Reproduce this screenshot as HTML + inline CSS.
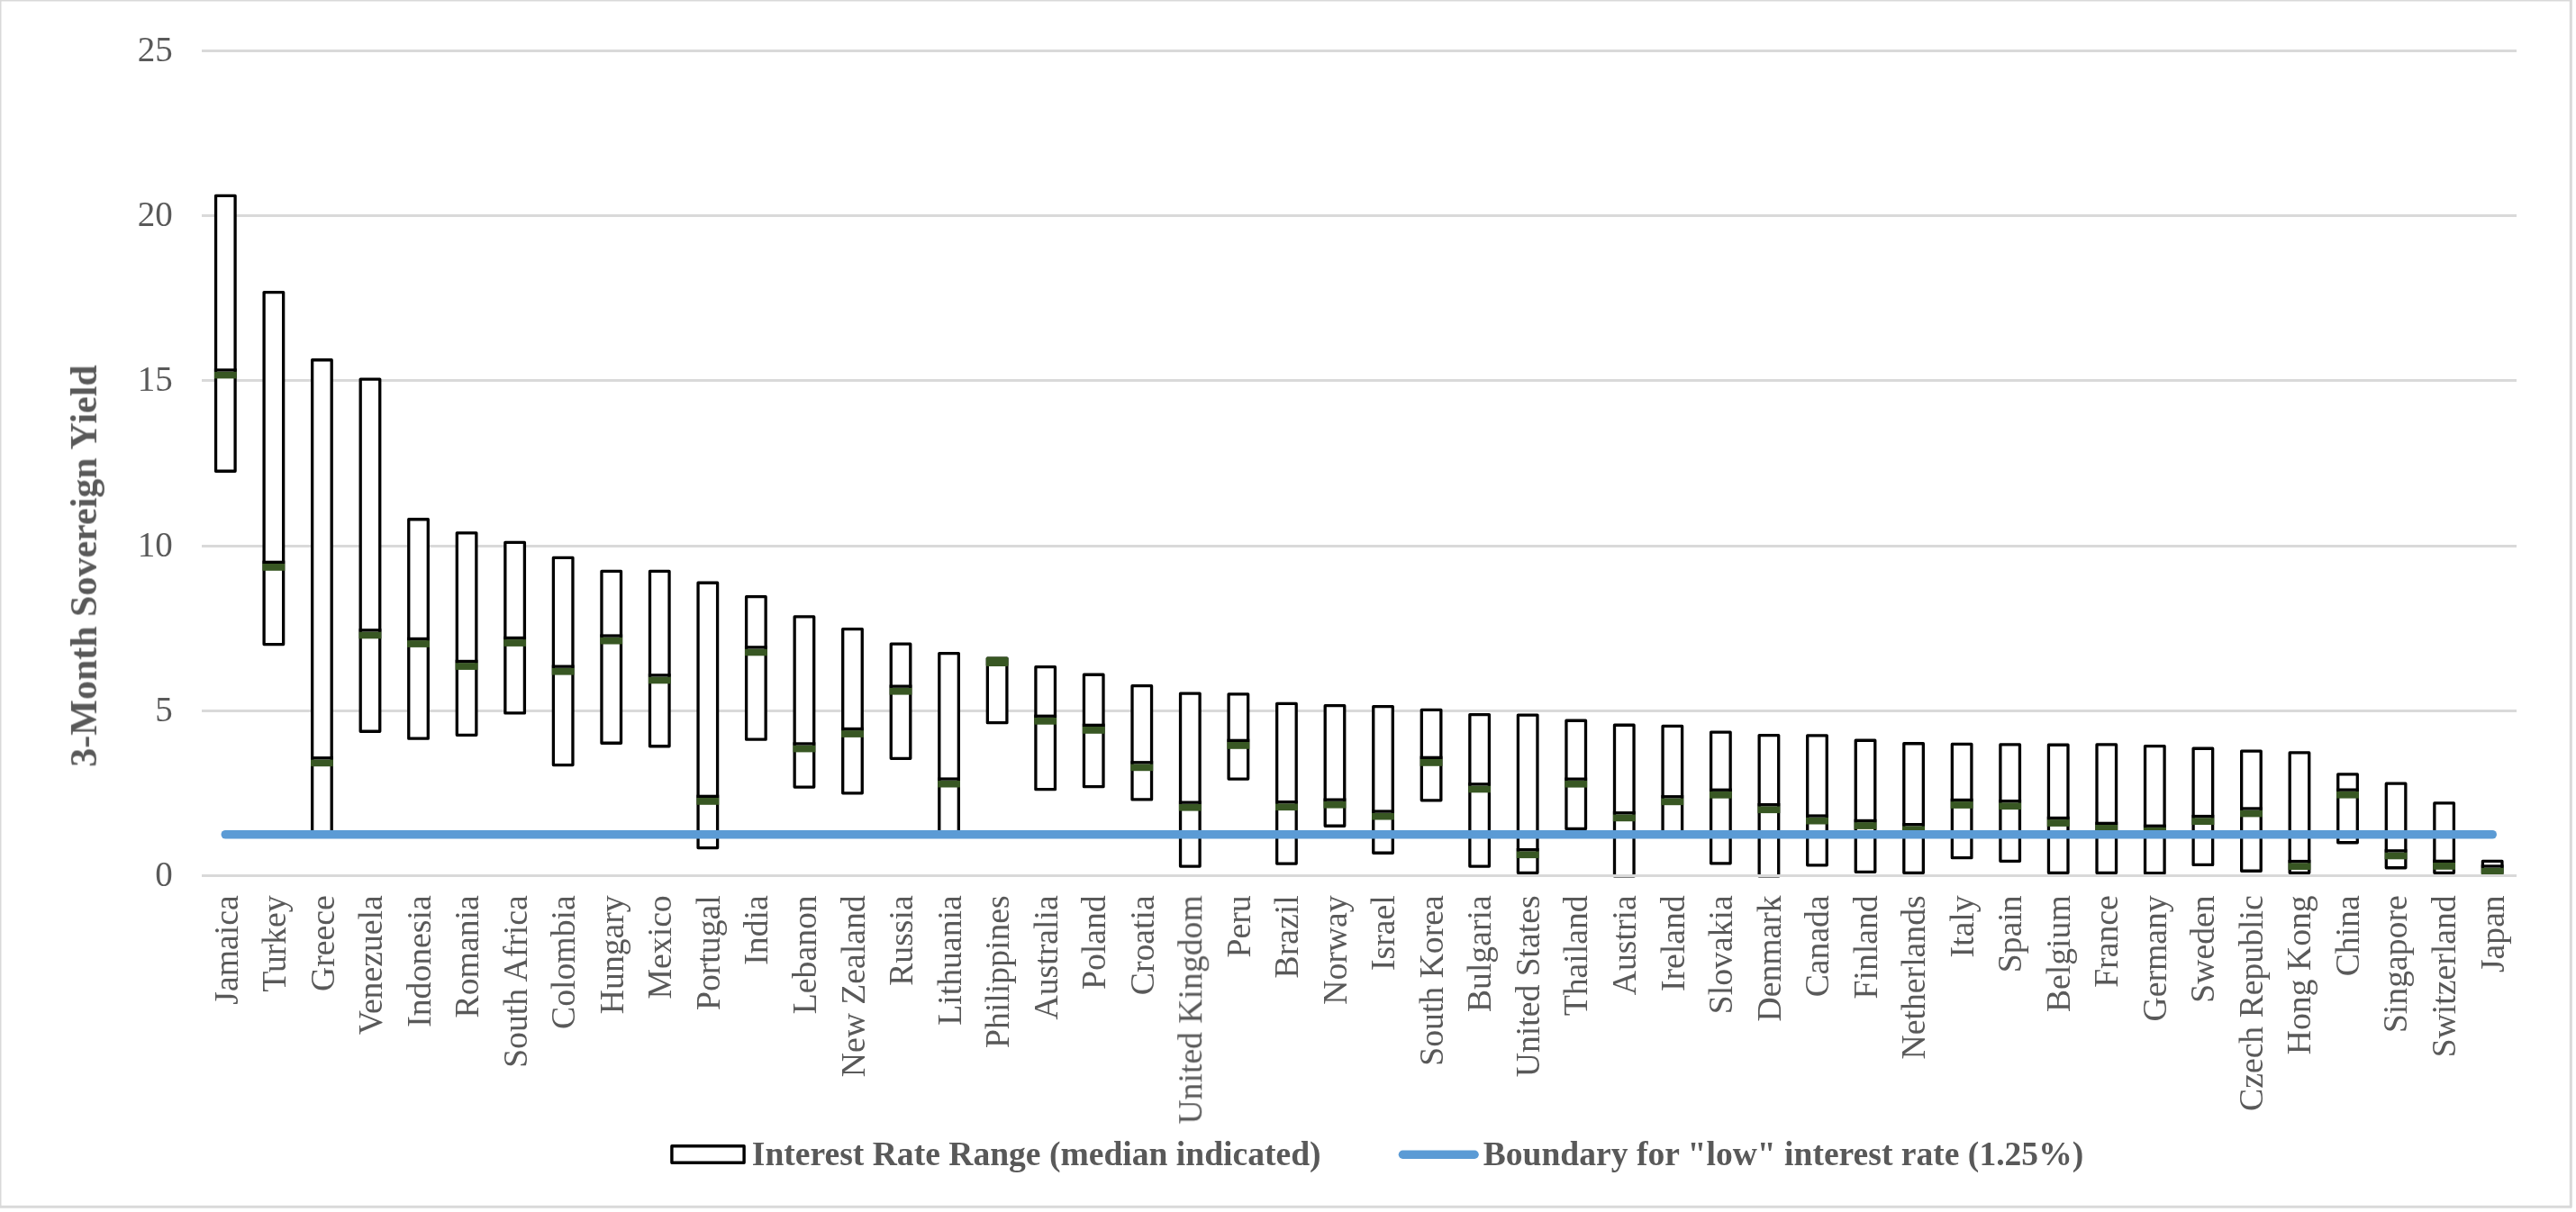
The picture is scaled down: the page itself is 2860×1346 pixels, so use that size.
<!DOCTYPE html>
<html><head><meta charset="utf-8"><title>3-Month Sovereign Yield</title>
<style>html,body{margin:0;padding:0;background:#fff;}svg{display:block;}.t{filter:grayscale(1);}svg text{font-family:"Liberation Serif","Times New Roman",serif;fill:#595959;}</style></head><body>
<svg width="2860" height="1346" viewBox="0 0 2860 1346">
<rect x="0" y="0" width="2860" height="1346" fill="#fff"/>
<rect x="224" y="55" width="2570" height="3" fill="#D9D9D9"/>
<rect x="224" y="238" width="2570" height="3" fill="#D9D9D9"/>
<rect x="224" y="421" width="2570" height="3" fill="#D9D9D9"/>
<rect x="224" y="605" width="2570" height="3" fill="#D9D9D9"/>
<rect x="224" y="788" width="2570" height="3" fill="#D9D9D9"/>
<g>
<rect x="239.55" y="217.35" width="21.55" height="305.90" fill="#fff" stroke="#000" stroke-width="3.3" stroke-linejoin="round"/><rect x="237.90" y="412.60" width="24.85" height="7.8" fill="#385723"/><rect x="237.90" y="409.30" width="24.85" height="3.3" fill="#000"/>
<rect x="293.10" y="324.55" width="21.55" height="391.00" fill="#fff" stroke="#000" stroke-width="3.3" stroke-linejoin="round"/><rect x="291.45" y="626.00" width="24.85" height="7.8" fill="#385723"/><rect x="291.45" y="622.70" width="24.85" height="3.3" fill="#000"/>
<rect x="346.65" y="399.75" width="21.55" height="529.60" fill="#fff" stroke="#000" stroke-width="3.3" stroke-linejoin="round"/><rect x="345.00" y="843.40" width="24.85" height="7.8" fill="#385723"/><rect x="345.00" y="840.10" width="24.85" height="3.3" fill="#000"/>
<rect x="400.20" y="421.05" width="21.55" height="391.20" fill="#fff" stroke="#000" stroke-width="3.3" stroke-linejoin="round"/><rect x="398.55" y="701.50" width="24.85" height="7.8" fill="#385723"/><rect x="398.55" y="698.20" width="24.85" height="3.3" fill="#000"/>
<rect x="453.75" y="576.75" width="21.55" height="243.40" fill="#fff" stroke="#000" stroke-width="3.3" stroke-linejoin="round"/><rect x="452.10" y="711.10" width="24.85" height="7.8" fill="#385723"/><rect x="452.10" y="707.80" width="24.85" height="3.3" fill="#000"/>
<rect x="507.30" y="591.85" width="21.55" height="224.50" fill="#fff" stroke="#000" stroke-width="3.3" stroke-linejoin="round"/><rect x="505.65" y="736.10" width="24.85" height="7.8" fill="#385723"/><rect x="505.65" y="732.80" width="24.85" height="3.3" fill="#000"/>
<rect x="560.85" y="602.45" width="21.55" height="189.50" fill="#fff" stroke="#000" stroke-width="3.3" stroke-linejoin="round"/><rect x="559.20" y="710.10" width="24.85" height="7.8" fill="#385723"/><rect x="559.20" y="706.80" width="24.85" height="3.3" fill="#000"/>
<rect x="614.40" y="619.35" width="21.55" height="230.20" fill="#fff" stroke="#000" stroke-width="3.3" stroke-linejoin="round"/><rect x="612.75" y="741.80" width="24.85" height="7.8" fill="#385723"/><rect x="612.75" y="738.50" width="24.85" height="3.3" fill="#000"/>
<rect x="667.95" y="634.45" width="21.55" height="190.80" fill="#fff" stroke="#000" stroke-width="3.3" stroke-linejoin="round"/><rect x="666.30" y="707.70" width="24.85" height="7.8" fill="#385723"/><rect x="666.30" y="704.40" width="24.85" height="3.3" fill="#000"/>
<rect x="721.50" y="634.45" width="21.55" height="194.30" fill="#fff" stroke="#000" stroke-width="3.3" stroke-linejoin="round"/><rect x="719.85" y="751.50" width="24.85" height="7.8" fill="#385723"/><rect x="719.85" y="748.20" width="24.85" height="3.3" fill="#000"/>
<rect x="775.05" y="647.25" width="21.55" height="294.30" fill="#fff" stroke="#000" stroke-width="3.3" stroke-linejoin="round"/><rect x="773.40" y="886.00" width="24.85" height="7.8" fill="#385723"/><rect x="773.40" y="882.70" width="24.85" height="3.3" fill="#000"/>
<rect x="828.60" y="662.65" width="21.55" height="158.50" fill="#fff" stroke="#000" stroke-width="3.3" stroke-linejoin="round"/><rect x="826.95" y="720.50" width="24.85" height="7.8" fill="#385723"/><rect x="826.95" y="717.20" width="24.85" height="3.3" fill="#000"/>
<rect x="882.15" y="684.95" width="21.55" height="189.10" fill="#fff" stroke="#000" stroke-width="3.3" stroke-linejoin="round"/><rect x="880.50" y="827.60" width="24.85" height="7.8" fill="#385723"/><rect x="880.50" y="824.30" width="24.85" height="3.3" fill="#000"/>
<rect x="935.70" y="698.55" width="21.55" height="182.30" fill="#fff" stroke="#000" stroke-width="3.3" stroke-linejoin="round"/><rect x="934.05" y="811.10" width="24.85" height="7.8" fill="#385723"/><rect x="934.05" y="807.80" width="24.85" height="3.3" fill="#000"/>
<rect x="989.25" y="715.15" width="21.55" height="127.20" fill="#fff" stroke="#000" stroke-width="3.3" stroke-linejoin="round"/><rect x="987.60" y="763.80" width="24.85" height="7.8" fill="#385723"/><rect x="987.60" y="760.50" width="24.85" height="3.3" fill="#000"/>
<rect x="1042.80" y="725.55" width="21.55" height="200.80" fill="#fff" stroke="#000" stroke-width="3.3" stroke-linejoin="round"/><rect x="1041.15" y="866.70" width="24.85" height="7.8" fill="#385723"/><rect x="1041.15" y="863.40" width="24.85" height="3.3" fill="#000"/>
<rect x="1096.35" y="731.05" width="21.55" height="71.60" fill="#fff" stroke="#000" stroke-width="3.3" stroke-linejoin="round"/><rect x="1094.70" y="729.40" width="24.85" height="10.5" rx="1.6" fill="#385723"/>
<rect x="1149.90" y="740.65" width="21.55" height="136.00" fill="#fff" stroke="#000" stroke-width="3.3" stroke-linejoin="round"/><rect x="1148.25" y="796.90" width="24.85" height="7.8" fill="#385723"/><rect x="1148.25" y="793.60" width="24.85" height="3.3" fill="#000"/>
<rect x="1203.45" y="749.25" width="21.55" height="124.40" fill="#fff" stroke="#000" stroke-width="3.3" stroke-linejoin="round"/><rect x="1201.80" y="807.00" width="24.85" height="7.8" fill="#385723"/><rect x="1201.80" y="803.70" width="24.85" height="3.3" fill="#000"/>
<rect x="1257.00" y="761.65" width="21.55" height="126.30" fill="#fff" stroke="#000" stroke-width="3.3" stroke-linejoin="round"/><rect x="1255.35" y="848.40" width="24.85" height="7.8" fill="#385723"/><rect x="1255.35" y="845.10" width="24.85" height="3.3" fill="#000"/>
<rect x="1310.55" y="770.05" width="21.55" height="192.00" fill="#fff" stroke="#000" stroke-width="3.3" stroke-linejoin="round"/><rect x="1308.90" y="892.80" width="24.85" height="7.8" fill="#385723"/><rect x="1308.90" y="889.50" width="24.85" height="3.3" fill="#000"/>
<rect x="1364.10" y="770.85" width="21.55" height="94.20" fill="#fff" stroke="#000" stroke-width="3.3" stroke-linejoin="round"/><rect x="1362.45" y="824.00" width="24.85" height="7.8" fill="#385723"/><rect x="1362.45" y="820.70" width="24.85" height="3.3" fill="#000"/>
<rect x="1417.65" y="781.45" width="21.55" height="177.60" fill="#fff" stroke="#000" stroke-width="3.3" stroke-linejoin="round"/><rect x="1416.00" y="892.30" width="24.85" height="7.8" fill="#385723"/><rect x="1416.00" y="889.00" width="24.85" height="3.3" fill="#000"/>
<rect x="1471.20" y="783.65" width="21.55" height="133.60" fill="#fff" stroke="#000" stroke-width="3.3" stroke-linejoin="round"/><rect x="1469.55" y="889.80" width="24.85" height="7.8" fill="#385723"/><rect x="1469.55" y="886.50" width="24.85" height="3.3" fill="#000"/>
<rect x="1524.75" y="784.65" width="21.55" height="162.60" fill="#fff" stroke="#000" stroke-width="3.3" stroke-linejoin="round"/><rect x="1523.10" y="902.70" width="24.85" height="7.8" fill="#385723"/><rect x="1523.10" y="899.40" width="24.85" height="3.3" fill="#000"/>
<rect x="1578.30" y="788.35" width="21.55" height="100.50" fill="#fff" stroke="#000" stroke-width="3.3" stroke-linejoin="round"/><rect x="1576.65" y="843.00" width="24.85" height="7.8" fill="#385723"/><rect x="1576.65" y="839.70" width="24.85" height="3.3" fill="#000"/>
<rect x="1631.85" y="793.55" width="21.55" height="168.50" fill="#fff" stroke="#000" stroke-width="3.3" stroke-linejoin="round"/><rect x="1630.20" y="872.50" width="24.85" height="7.8" fill="#385723"/><rect x="1630.20" y="869.20" width="24.85" height="3.3" fill="#000"/>
<rect x="1685.40" y="794.05" width="21.55" height="175.30" fill="#fff" stroke="#000" stroke-width="3.3" stroke-linejoin="round"/><rect x="1683.75" y="945.30" width="24.85" height="7.8" fill="#385723"/><rect x="1683.75" y="942.00" width="24.85" height="3.3" fill="#000"/>
<rect x="1738.95" y="800.25" width="21.55" height="120.20" fill="#fff" stroke="#000" stroke-width="3.3" stroke-linejoin="round"/><rect x="1737.30" y="866.80" width="24.85" height="7.8" fill="#385723"/><rect x="1737.30" y="863.50" width="24.85" height="3.3" fill="#000"/>
<rect x="1792.50" y="805.25" width="21.55" height="167.70" fill="#fff" stroke="#000" stroke-width="3.3" stroke-linejoin="round"/><rect x="1790.85" y="904.40" width="24.85" height="7.8" fill="#385723"/><rect x="1790.85" y="901.10" width="24.85" height="3.3" fill="#000"/>
<rect x="1846.05" y="806.45" width="21.55" height="120.90" fill="#fff" stroke="#000" stroke-width="3.3" stroke-linejoin="round"/><rect x="1844.40" y="886.40" width="24.85" height="7.8" fill="#385723"/><rect x="1844.40" y="883.10" width="24.85" height="3.3" fill="#000"/>
<rect x="1899.60" y="813.15" width="21.55" height="145.70" fill="#fff" stroke="#000" stroke-width="3.3" stroke-linejoin="round"/><rect x="1897.95" y="878.90" width="24.85" height="7.8" fill="#385723"/><rect x="1897.95" y="875.60" width="24.85" height="3.3" fill="#000"/>
<rect x="1953.15" y="816.55" width="21.55" height="156.40" fill="#fff" stroke="#000" stroke-width="3.3" stroke-linejoin="round"/><rect x="1951.50" y="895.30" width="24.85" height="7.8" fill="#385723"/><rect x="1951.50" y="892.00" width="24.85" height="3.3" fill="#000"/>
<rect x="2006.70" y="816.85" width="21.55" height="144.00" fill="#fff" stroke="#000" stroke-width="3.3" stroke-linejoin="round"/><rect x="2005.05" y="907.70" width="24.85" height="7.8" fill="#385723"/><rect x="2005.05" y="904.40" width="24.85" height="3.3" fill="#000"/>
<rect x="2060.25" y="822.25" width="21.55" height="146.10" fill="#fff" stroke="#000" stroke-width="3.3" stroke-linejoin="round"/><rect x="2058.60" y="913.10" width="24.85" height="7.8" fill="#385723"/><rect x="2058.60" y="909.80" width="24.85" height="3.3" fill="#000"/>
<rect x="2113.80" y="825.75" width="21.55" height="143.60" fill="#fff" stroke="#000" stroke-width="3.3" stroke-linejoin="round"/><rect x="2112.15" y="917.30" width="24.85" height="7.8" fill="#385723"/><rect x="2112.15" y="914.00" width="24.85" height="3.3" fill="#000"/>
<rect x="2167.35" y="826.45" width="21.55" height="126.20" fill="#fff" stroke="#000" stroke-width="3.3" stroke-linejoin="round"/><rect x="2165.70" y="890.10" width="24.85" height="7.8" fill="#385723"/><rect x="2165.70" y="886.80" width="24.85" height="3.3" fill="#000"/>
<rect x="2220.90" y="826.95" width="21.55" height="129.40" fill="#fff" stroke="#000" stroke-width="3.3" stroke-linejoin="round"/><rect x="2219.25" y="891.30" width="24.85" height="7.8" fill="#385723"/><rect x="2219.25" y="888.00" width="24.85" height="3.3" fill="#000"/>
<rect x="2274.45" y="827.25" width="21.55" height="142.10" fill="#fff" stroke="#000" stroke-width="3.3" stroke-linejoin="round"/><rect x="2272.80" y="910.10" width="24.85" height="7.8" fill="#385723"/><rect x="2272.80" y="906.80" width="24.85" height="3.3" fill="#000"/>
<rect x="2328.00" y="826.95" width="21.55" height="142.40" fill="#fff" stroke="#000" stroke-width="3.3" stroke-linejoin="round"/><rect x="2326.35" y="916.00" width="24.85" height="7.8" fill="#385723"/><rect x="2326.35" y="912.70" width="24.85" height="3.3" fill="#000"/>
<rect x="2381.55" y="828.55" width="21.55" height="141.10" fill="#fff" stroke="#000" stroke-width="3.3" stroke-linejoin="round"/><rect x="2379.90" y="918.90" width="24.85" height="7.8" fill="#385723"/><rect x="2379.90" y="915.60" width="24.85" height="3.3" fill="#000"/>
<rect x="2435.10" y="831.25" width="21.55" height="129.20" fill="#fff" stroke="#000" stroke-width="3.3" stroke-linejoin="round"/><rect x="2433.45" y="908.20" width="24.85" height="7.8" fill="#385723"/><rect x="2433.45" y="904.90" width="24.85" height="3.3" fill="#000"/>
<rect x="2488.65" y="834.15" width="21.55" height="133.10" fill="#fff" stroke="#000" stroke-width="3.3" stroke-linejoin="round"/><rect x="2487.00" y="899.60" width="24.85" height="7.8" fill="#385723"/><rect x="2487.00" y="896.30" width="24.85" height="3.3" fill="#000"/>
<rect x="2542.20" y="835.95" width="21.55" height="133.40" fill="#fff" stroke="#000" stroke-width="3.3" stroke-linejoin="round"/><rect x="2540.55" y="958.20" width="24.85" height="7.8" fill="#385723"/><rect x="2540.55" y="954.90" width="24.85" height="3.3" fill="#000"/>
<rect x="2595.75" y="859.85" width="21.55" height="75.90" fill="#fff" stroke="#000" stroke-width="3.3" stroke-linejoin="round"/><rect x="2594.10" y="878.80" width="24.85" height="7.8" fill="#385723"/><rect x="2594.10" y="875.50" width="24.85" height="3.3" fill="#000"/>
<rect x="2649.30" y="870.15" width="21.55" height="93.60" fill="#fff" stroke="#000" stroke-width="3.3" stroke-linejoin="round"/><rect x="2647.65" y="946.50" width="24.85" height="7.8" fill="#385723"/><rect x="2647.65" y="943.20" width="24.85" height="3.3" fill="#000"/>
<rect x="2702.85" y="891.95" width="21.55" height="77.40" fill="#fff" stroke="#000" stroke-width="3.3" stroke-linejoin="round"/><rect x="2701.20" y="958.00" width="24.85" height="7.8" fill="#385723"/><rect x="2701.20" y="954.70" width="24.85" height="3.3" fill="#000"/>
<rect x="2756.40" y="956.45" width="21.55" height="13.10" fill="#fff" stroke="#000" stroke-width="3.3" stroke-linejoin="round"/><rect x="2754.75" y="963.60" width="24.85" height="7.8" fill="#385723"/><rect x="2754.75" y="960.30" width="24.85" height="3.3" fill="#000"/>
</g>
<rect x="224" y="971" width="2570" height="3" fill="#D9D9D9"/>
<line x1="250.33" y1="926.75" x2="2767.18" y2="926.75" stroke="#5B9BD5" stroke-width="9.6" stroke-linecap="round"/>
<g class="t">
<text x="191.8" y="67.9" text-anchor="end" font-size="39">25</text>
<text x="191.8" y="250.9" text-anchor="end" font-size="39">20</text>
<text x="191.8" y="433.9" text-anchor="end" font-size="39">15</text>
<text x="191.8" y="617.9" text-anchor="end" font-size="39">10</text>
<text x="191.8" y="800.9" text-anchor="end" font-size="39">5</text>
<text x="191.8" y="983.9" text-anchor="end" font-size="39">0</text>
<text transform="translate(106.9,628.5) rotate(-90)" text-anchor="middle" font-size="42" font-weight="bold">3-Month Sovereign Yield</text>
<text transform="translate(263.62,994.3) rotate(-90)" text-anchor="end" font-size="37.7">Jamaica</text>
<text transform="translate(317.16,994.3) rotate(-90)" text-anchor="end" font-size="37.7">Turkey</text>
<text transform="translate(370.69,994.3) rotate(-90)" text-anchor="end" font-size="37.7">Greece</text>
<text transform="translate(424.22,994.3) rotate(-90)" text-anchor="end" font-size="37.7">Venezuela</text>
<text transform="translate(477.75,994.3) rotate(-90)" text-anchor="end" font-size="37.7">Indonesia</text>
<text transform="translate(531.27,994.3) rotate(-90)" text-anchor="end" font-size="37.7">Romania</text>
<text transform="translate(584.80,994.3) rotate(-90)" text-anchor="end" font-size="37.7">South Africa</text>
<text transform="translate(638.33,994.3) rotate(-90)" text-anchor="end" font-size="37.7">Colombia</text>
<text transform="translate(691.86,994.3) rotate(-90)" text-anchor="end" font-size="37.7">Hungary</text>
<text transform="translate(745.39,994.3) rotate(-90)" text-anchor="end" font-size="37.7">Mexico</text>
<text transform="translate(798.92,994.3) rotate(-90)" text-anchor="end" font-size="37.7">Portugal</text>
<text transform="translate(852.45,994.3) rotate(-90)" text-anchor="end" font-size="37.7">India</text>
<text transform="translate(905.98,994.3) rotate(-90)" text-anchor="end" font-size="37.7">Lebanon</text>
<text transform="translate(959.51,994.3) rotate(-90)" text-anchor="end" font-size="37.7">New Zealand</text>
<text transform="translate(1013.04,994.3) rotate(-90)" text-anchor="end" font-size="37.7">Russia</text>
<text transform="translate(1066.58,994.3) rotate(-90)" text-anchor="end" font-size="37.7">Lithuania</text>
<text transform="translate(1120.11,994.3) rotate(-90)" text-anchor="end" font-size="37.7">Philippines</text>
<text transform="translate(1173.63,994.3) rotate(-90)" text-anchor="end" font-size="37.7">Australia</text>
<text transform="translate(1227.16,994.3) rotate(-90)" text-anchor="end" font-size="37.7">Poland</text>
<text transform="translate(1280.69,994.3) rotate(-90)" text-anchor="end" font-size="37.7">Croatia</text>
<text transform="translate(1334.22,994.3) rotate(-90)" text-anchor="end" font-size="37.7">United Kingdom</text>
<text transform="translate(1387.75,994.3) rotate(-90)" text-anchor="end" font-size="37.7">Peru</text>
<text transform="translate(1441.28,994.3) rotate(-90)" text-anchor="end" font-size="37.7">Brazil</text>
<text transform="translate(1494.81,994.3) rotate(-90)" text-anchor="end" font-size="37.7">Norway</text>
<text transform="translate(1548.34,994.3) rotate(-90)" text-anchor="end" font-size="37.7">Israel</text>
<text transform="translate(1601.87,994.3) rotate(-90)" text-anchor="end" font-size="37.7">South Korea</text>
<text transform="translate(1655.40,994.3) rotate(-90)" text-anchor="end" font-size="37.7">Bulgaria</text>
<text transform="translate(1708.93,994.3) rotate(-90)" text-anchor="end" font-size="37.7">United States</text>
<text transform="translate(1762.46,994.3) rotate(-90)" text-anchor="end" font-size="37.7">Thailand</text>
<text transform="translate(1815.99,994.3) rotate(-90)" text-anchor="end" font-size="37.7">Austria</text>
<text transform="translate(1869.52,994.3) rotate(-90)" text-anchor="end" font-size="37.7">Ireland</text>
<text transform="translate(1923.05,994.3) rotate(-90)" text-anchor="end" font-size="37.7">Slovakia</text>
<text transform="translate(1976.58,994.3) rotate(-90)" text-anchor="end" font-size="37.7">Denmark</text>
<text transform="translate(2030.11,994.3) rotate(-90)" text-anchor="end" font-size="37.7">Canada</text>
<text transform="translate(2083.65,994.3) rotate(-90)" text-anchor="end" font-size="37.7">Finland</text>
<text transform="translate(2137.18,994.3) rotate(-90)" text-anchor="end" font-size="37.7">Netherlands</text>
<text transform="translate(2190.71,994.3) rotate(-90)" text-anchor="end" font-size="37.7">Italy</text>
<text transform="translate(2244.24,994.3) rotate(-90)" text-anchor="end" font-size="37.7">Spain</text>
<text transform="translate(2297.76,994.3) rotate(-90)" text-anchor="end" font-size="37.7">Belgium</text>
<text transform="translate(2351.30,994.3) rotate(-90)" text-anchor="end" font-size="37.7">France</text>
<text transform="translate(2404.83,994.3) rotate(-90)" text-anchor="end" font-size="37.7">Germany</text>
<text transform="translate(2458.36,994.3) rotate(-90)" text-anchor="end" font-size="37.7">Sweden</text>
<text transform="translate(2511.89,994.3) rotate(-90)" text-anchor="end" font-size="37.7">Czech Republic</text>
<text transform="translate(2565.41,994.3) rotate(-90)" text-anchor="end" font-size="37.7">Hong Kong</text>
<text transform="translate(2618.95,994.3) rotate(-90)" text-anchor="end" font-size="37.7">China</text>
<text transform="translate(2672.48,994.3) rotate(-90)" text-anchor="end" font-size="37.7">Singapore</text>
<text transform="translate(2726.01,994.3) rotate(-90)" text-anchor="end" font-size="37.7">Switzerland</text>
<text transform="translate(2779.54,994.3) rotate(-90)" text-anchor="end" font-size="37.7">Japan</text>
</g>
<rect x="745.9" y="1272.7" width="80.2" height="18.5" fill="#fff" stroke="#000" stroke-width="3.4" stroke-linejoin="round"/>
<line x1="1557.4" y1="1282.2" x2="1637.1" y2="1282.2" stroke="#5B9BD5" stroke-width="9.4" stroke-linecap="round"/>
<g class="t"><text x="834.8" y="1294" font-size="37.6" font-weight="bold">Interest Rate Range (median indicated)</text>
<text x="1646.7" y="1294" font-size="37.6" font-weight="bold">Boundary for &quot;low&quot; interest rate (1.25%)</text>
</g>
<rect x="0" y="0" width="2854.3" height="1340.3" fill="none" stroke="#D9D9D9" stroke-width="3" stroke-linejoin="round"/>
</svg>
</body></html>
